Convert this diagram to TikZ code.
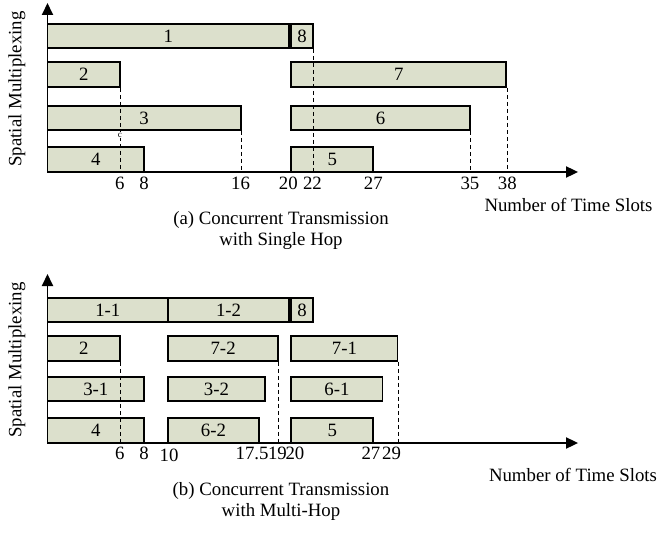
\documentclass[tikz,border=0pt]{standalone}
\usepackage{fontspec}
\setmainfont{Liberation Serif}
\usetikzlibrary{arrows.meta,fit}
\definecolor{barfill}{RGB}{220,224,204}
\begin{document}
\begin{tikzpicture}[x=1pt,y=1pt,
  bar/.style={draw=black, line width=1.8pt, fill=barfill, inner sep=0pt},
  axis/.style={line width=1.8pt, -{Triangle[length=12pt,width=11pt]}},
  guide/.style={line width=0.9pt, dash pattern=on 4pt off 3pt},
  txt/.style={font=\fontsize{18.8}{21}\selectfont, inner sep=0pt},
  bl/.style={label={[txt]center:#1}}]
\useasboundingbox (0,0) rectangle (658,536);

% ---------------- panel (a) ----------------
\begin{scope}[shift={(47.5pt,364pt)}, x=12.07pt, y=1pt]
  \coordinate (oa) at (0,0);
  \coordinate (xa) at (43.96,0);
  \coordinate (ya) at (0,169);
  \node[bar, bl=1, fit={(0,124) (20,148)}] (a1) {};
  \node[bar, bl=8, fit={(20.2,124) (22,148)}] (a8) {};
  \node[bar, bl=2, fit={(0,85) (6,110)}] (a2) {};
  \node[bar, bl=7, fit={(20.2,85) (38,110)}] (a7) {};
  \node[bar, bl=3, fit={(0,42) (16,66)}] (a3) {};
  \node[bar, bl=6, fit={(20.2,42) (35,66)}] (a6) {};
  \node[bar, bl=4, fit={(0,0) (8,25)}] (a4) {};
  \node[bar, bl=5, fit={(20.2,0) (27,25)}] (a5) {};
  \draw[axis] (oa) -- (xa);
  \draw[axis] (oa) -- (ya);
  \foreach \n in {a2,a3,a8,a6,a7}
    \draw[guide] (\n.south east) -- (\n.south east |- oa);
  \node[fill=white, inner sep=1.2pt, font=\fontsize{9}{10}\selectfont] (ca) at (6,37) {c};
  \node[txt] (ta6) at (6,-11) {6};
  \node[txt] (ta8) at (8,-11) {8};
  \node[txt] (ta16) at (16,-11) {16};
  \node[txt] (ta20) at (19.95,-11) {20};
  \node[txt] (ta22) at (21.95,-11) {22};
  \node[txt] (ta27) at (27,-11) {27};
  \node[txt] (ta35) at (35,-11) {35};
  \node[txt] (ta38) at (38.1,-11) {38};
\end{scope}
\node[txt] (xla) at (568.5,331) {Number of Time Slots};
\node[txt, rotate=90] (yla) at (17,447) {Spatial Multiplexing};
\node[txt, align=center] (capa) at (281,305.5) {(a) Concurrent Transmission\\with Single Hop};

% ---------------- panel (b) ----------------
\begin{scope}[shift={(47.5pt,93pt)}, x=12.07pt, y=1pt]
  \coordinate (ob) at (0,0);
  \coordinate (xb) at (43.96,0);
  \coordinate (yb) at (0,169);
  \node[bar, bl=1-1, fit={(0,121) (10,145)}] (b11) {};
  \node[bar, bl=1-2, fit={(10,121) (20,145)}] (b12) {};
  \node[bar, bl=8, fit={(20.2,121) (22,145)}] (b8) {};
  \node[bar, bl=2, fit={(0,82) (6,107)}] (b2) {};
  \node[bar, bl=7-2, fit={(10,82) (19.1,107)}] (b72) {};
  \node[bar, bl=7-1, fit={(20.2,82) (29,107)}] (b71) {};
  \node[bar, bl=3-1, fit={(0,42) (8,66)}] (b31) {};
  \node[bar, bl=3-2, fit={(10,42) (18,66)}] (b32) {};
  \node[bar, bl=6-1, fit={(20.2,42) (27.75,66)}] (b61) {};
  \node[bar, bl=4, fit={(0,0) (8,25)}] (b4) {};
  \node[bar, bl=6-2, fit={(10,0) (17.5,25)}] (b62) {};
  \node[bar, bl=5, fit={(20.2,0) (27,25)}] (b5) {};
  \draw[axis] (ob) -- (xb);
  \draw[axis] (ob) -- (yb);
  \foreach \n in {b2,b72,b71}
    \draw[guide] (\n.south east) -- (\n.south east |- ob);
  \node[txt] (tb6) at (6,-10) {6};
  \node[txt] (tb8) at (8,-10) {8};
  \node[txt] (tb10) at (10.07,-12) {10};
  \node[txt] (tb175) at (16.95,-10) {17.5};
  \node[txt] (tb19) at (19.05,-10) {19};
  \node[txt] (tb20) at (20.5,-10) {20};
  \node[txt] (tb27) at (26.8,-10) {27};
  \node[txt] (tb29) at (28.5,-10) {29};
\end{scope}
\node[txt] (xlb) at (573,61) {Number of Time Slots};
\node[txt, rotate=90] (ylb) at (17,176) {Spatial Multiplexing};
\node[txt, align=center] (capb) at (281,34.5) {(b) Concurrent Transmission\\with Multi-Hop};
\end{tikzpicture}
\end{document}
